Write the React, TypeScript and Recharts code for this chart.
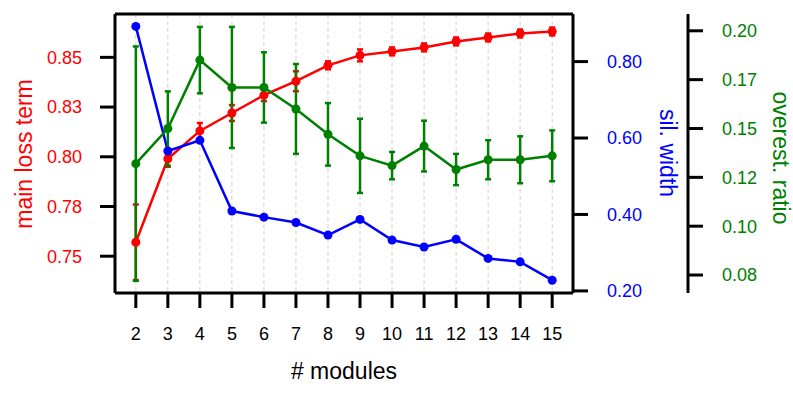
import { ComposedChart, Line, XAxis, YAxis, CartesianGrid, ErrorBar } from 'recharts'

const modules = [2, 3, 4, 5, 6, 7, 8, 9, 10, 11, 12, 13, 14, 15]
const lossTerm = [0.757, 0.799, 0.813, 0.822, 0.831, 0.838, 0.846, 0.851, 0.853, 0.855, 0.858, 0.86, 0.862, 0.863]
const lossErr = [0.019, 0.004, 0.004, 0.004, 0.003, 0.005, 0.002, 0.003, 0.002, 0.002, 0.002, 0.002, 0.002, 0.002]
const silWidth = [0.892, 0.566, 0.594, 0.409, 0.393, 0.379, 0.346, 0.387, 0.333, 0.315, 0.335, 0.285, 0.276, 0.228]
const overestRatio = [0.132, 0.15, 0.185, 0.171, 0.171, 0.16, 0.147, 0.136, 0.131, 0.141, 0.129, 0.134, 0.134, 0.136]
const overestErr = [0.06, 0.019, 0.017, 0.031, 0.018, 0.023, 0.016, 0.019, 0.007, 0.013, 0.008, 0.01, 0.012, 0.013]

const lossTicks = [0.75, 0.775, 0.8, 0.825, 0.85]
const lossTickLabels = ['0.75', '0.78', '0.80', '0.83', '0.85']
const silTicks = [0.2, 0.4, 0.6, 0.8]
const silTickLabels = ['0.20', '0.40', '0.60', '0.80']
const ratioTicks = [0.075, 0.1, 0.125, 0.15, 0.175, 0.2]
const ratioTickLabels = ['0.08', '0.10', '0.12', '0.15', '0.17', '0.20']

const data = modules.map((m, i) => ({
  m,
  loss: lossTerm[i],
  lossErr: lossErr[i],
  sil: silWidth[i],
  ratio: overestRatio[i],
  ratioErr: overestErr[i],
}))

const RED = '#ff0000'
const BLUE = '#0000ff'
const GREEN = '#008000'

const spine = { stroke: '#000', strokeWidth: 3 }
const tickLine = { stroke: '#000', strokeWidth: 3 }

const labelFrom = (ticks: number[], labels: string[]) => (v: number) => {
  const i = ticks.findIndex((t) => Math.abs(t - v) < 1e-9)
  return i >= 0 ? labels[i] : String(v)
}

// rotated axis title, placed by its own props (recharts overrides x/y/angle)
function SideTitle(props: any) {
  const { title, tint, px, py, rot } = props
  return (
    <text x={px} y={py} fill={tint} fontSize={23} textAnchor="middle" transform={`rotate(${rot} ${px} ${py})`}>
      {title}
    </text>
  )
}

function BottomTitle(props: any) {
  const { viewBox } = props
  const cx = viewBox.x + viewBox.width / 2
  return (
    <text x={cx} y={379} fill="#000" fontSize={23} textAnchor="middle">
      # modules
    </text>
  )
}

export default function App() {
  return (
    <div style={{ position: 'absolute', left: 0, top: 0, fontFamily: '"Liberation Sans", Arial, sans-serif' }}>
      <ComposedChart width={793} height={397} data={data} margin={{ top: 0, right: 0, left: 0, bottom: 0 }}>
        <CartesianGrid horizontal={false} strokeDasharray="4 3" stroke="#d0d0d0" strokeWidth={1} />
        <XAxis
          dataKey="m"
          type="number"
          domain={[1.35, 15.65]}
          ticks={modules}
          allowDataOverflow
          height={104}
          tickSize={15}
          tickMargin={19}
          axisLine={spine}
          tickLine={tickLine}
          tick={{ fill: '#000', fontSize: 18 }}
          label={<BottomTitle />}
        />
        <XAxis
          xAxisId="top"
          orientation="top"
          type="number"
          domain={[1.35, 15.65]}
          allowDataOverflow
          height={14}
          tick={false}
          tickLine={false}
          axisLine={spine}
        />
        <YAxis
          yAxisId="axis0"
          orientation="left"
          width={115}
          domain={[0.7315, 0.8718]}
          allowDataOverflow
          ticks={lossTicks}
          tickFormatter={labelFrom(lossTicks, lossTickLabels)}
          tickSize={15}
          tickMargin={18}
          axisLine={spine}
          tickLine={tickLine}
          tick={{ fill: RED, fontSize: 18 }}
          label={<SideTitle title="main loss term" tint={RED} px={31.5} py={154} rot={-90} />}
        />
        <YAxis
          yAxisId="axis2"
          orientation="right"
          width={105}
          domain={[0.0658, 0.2086]}
          allowDataOverflow
          ticks={ratioTicks}
          tickFormatter={labelFrom(ratioTicks, ratioTickLabels)}
          tickSize={15}
          tickMargin={19}
          axisLine={spine}
          tickLine={tickLine}
          tick={{ fill: GREEN, fontSize: 18 }}
          label={<SideTitle title="overest. ratio" tint={GREEN} px={773} py={158} rot={90} />}
        />
        <YAxis
          yAxisId="axis1"
          orientation="right"
          width={115}
          domain={[0.1945, 0.9245]}
          allowDataOverflow
          ticks={silTicks}
          tickFormatter={labelFrom(silTicks, silTickLabels)}
          tickSize={15}
          tickMargin={19}
          axisLine={spine}
          tickLine={tickLine}
          tick={{ fill: BLUE, fontSize: 18 }}
          label={<SideTitle title="sil. width" tint={BLUE} px={660} py={153} rot={90} />}
        />
        <Line
          yAxisId="axis0"
          dataKey="loss"
          type="linear"
          stroke={RED}
          strokeWidth={2.5}
          dot={{ r: 4.5, fill: RED, stroke: RED, strokeWidth: 0 }}
          isAnimationActive={false}
        >
          <ErrorBar dataKey="lossErr" direction="y" width={3} stroke={RED} strokeWidth={2.5} />
        </Line>
        <Line
          yAxisId="axis1"
          dataKey="sil"
          type="linear"
          stroke={BLUE}
          strokeWidth={2.5}
          dot={{ r: 4.5, fill: BLUE, stroke: BLUE, strokeWidth: 0 }}
          isAnimationActive={false}
        />
        <Line
          yAxisId="axis2"
          dataKey="ratio"
          type="linear"
          stroke={GREEN}
          strokeWidth={2.5}
          dot={{ r: 4.5, fill: GREEN, stroke: GREEN, strokeWidth: 0 }}
          isAnimationActive={false}
        >
          <ErrorBar dataKey="ratioErr" direction="y" width={3} stroke={GREEN} strokeWidth={2.5} />
        </Line>
      </ComposedChart>
    </div>
  )
}
